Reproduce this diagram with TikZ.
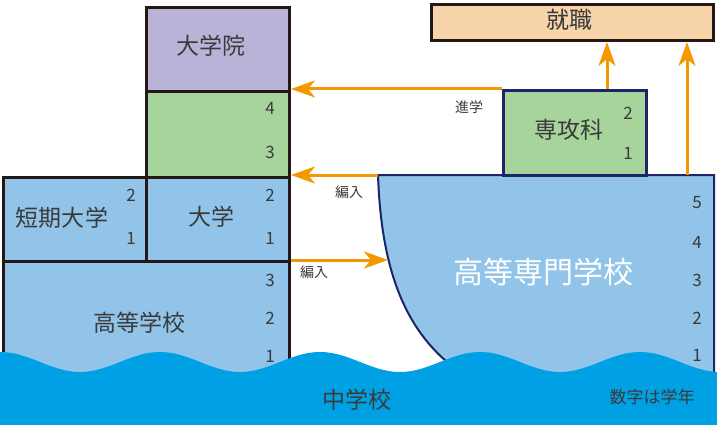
\documentclass[tikz,border=0pt]{standalone}
\usepackage{fontspec}
\setmainfont{Noto Sans CJK JP}
\usetikzlibrary{arrows.meta}
\definecolor{lav}{HTML}{BAB3D8}
\definecolor{grn}{HTML}{A7D49B}
\definecolor{ltb}{HTML}{91C4E8}
\definecolor{pch}{HTML}{F8D4AB}
\definecolor{wav}{HTML}{00A0E4}
\definecolor{org}{HTML}{F39800}
\definecolor{nvy}{HTML}{1D2566}
\definecolor{bk}{HTML}{231815}
\definecolor{txt}{HTML}{3A3A3A}
\begin{document}
\begin{tikzpicture}[x=1pt,y=-1pt,
  bx/.style={rectangle,draw=bk,line width=3pt,inner sep=0pt,anchor=north west},
  lbl/.style={text=txt,font=\fontsize{23}{23}\selectfont,inner sep=0pt},
  num/.style={text=txt,font=\fontsize{17}{17}\selectfont,inner sep=0pt},
  small/.style={text=txt,font=\fontsize{14}{14}\selectfont,inner sep=0pt},
  arr/.style={draw=org,line width=3pt,-{Stealth[length=24pt,width=17pt,inset=7pt]}}]
\useasboundingbox (0,0) rectangle (717,425);
% boxes
\node[bx,fill=ltb,minimum width=286pt,minimum height=160pt] (koukou) at (2,260) {};
\node[bx,fill=lav,minimum width=143pt,minimum height=84pt] (daigakuin) at (145,6) {};
\node[bx,fill=grn,minimum width=143pt,minimum height=86pt] (g34) at (145,90) {};
\node[bx,fill=ltb,minimum width=143pt,minimum height=84pt] (tandai) at (2,176) {};
\node[bx,fill=ltb,minimum width=143pt,minimum height=84pt] (daigaku) at (145,176) {};
\node[bx,fill=pch,minimum width=282pt,minimum height=36pt] (shushoku) at (430,3) {};
% kosen shape
\coordinate (ktl) at (378,175);
\coordinate (hen2) at (388,260);
\draw[fill=ltb,draw=nvy,line width=2pt] (ktl) -- (714,175) -- (714,410) -- (470,410) -- (460,372)
  .. controls (400,330) and (381,260) .. (ktl) -- cycle;
\node[bx,draw=nvy,fill=grn,minimum width=143pt,minimum height=85pt] (senkoka) at (502,89) {};
% wave
\fill[wav] (0,425) -- plot[domain=0:717,samples=120,smooth] (\x,{362-10*cos(2.25*\x)}) -- (717,425) -- cycle;
% arrows
\coordinate (a1) at (607,89);
\coordinate (a2) at (687,175);
\draw[arr] (senkoka.north west) -- (senkoka.north west -| g34.east);
\draw[arr] (ktl) -- (ktl -| daigaku.east);
\draw[arr] (koukou.north east) -- (hen2);
\draw[arr] (a1) -- (a1 |- shushoku.south);
\draw[arr] (a2) -- (a2 |- shushoku.south);
% labels
\node[lbl] (t1) at (211,46) {大学院};
\node[lbl] (t2) at (62,218) {短期大学};
\node[lbl] (t3) at (211,217) {大学};
\node[lbl] (t4) at (139,323) {高等学校};
\node[lbl] (t5) at (569,20) {就職};
\node[lbl] (t6) at (569,130) {専攻科};
\node[lbl,text=white,font=\fontsize{30}{30}\selectfont] (t7) at (543,272) {高等専門学校};
\node[lbl] (t8) at (357,400) {中学校};
\node[small,font=\fontsize{17}{17}\selectfont] (t9) at (652,397) {数字は学年};
\node[small] (t10) at (469,107) {進学};
\node[small] (t11) at (349,192) {編入};
\node[small] (t12) at (314,272) {編入};
% numbers
\node[num] (n1) at (270,108) {4};
\node[num] (n2) at (270,152) {3};
\node[num] (n3) at (131,195) {2};
\node[num] (n4) at (131,238) {1};
\node[num] (n5) at (270,195) {2};
\node[num] (n6) at (270,238) {1};
\node[num] (n7) at (270,280) {3};
\node[num] (n8) at (270,318) {2};
\node[num] (n9) at (270,356) {1};
\node[num] (n10) at (628,113) {2};
\node[num] (n11) at (628,153) {1};
\node[num] (n12) at (697,203) {5};
\node[num] (n13) at (697,242) {4};
\node[num] (n14) at (697,280) {3};
\node[num] (n15) at (697,318) {2};
\node[num] (n16) at (697,355) {1};
\end{tikzpicture}
\end{document}
